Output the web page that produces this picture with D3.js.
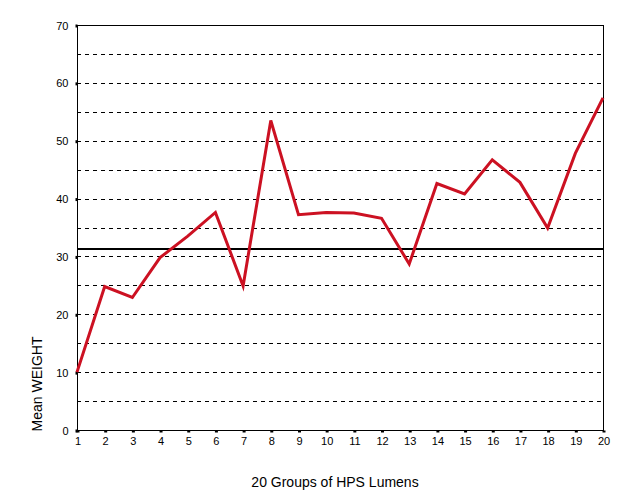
<!DOCTYPE html>
<html><head><meta charset="utf-8">
<script src="https://cdn.jsdelivr.net/npm/d3@7"></script>
<style>body{margin:0;background:#fff}svg{display:block}</style>
</head><body>
<svg id="c" width="630" height="503"></svg>
<script>
const groups = d3.range(1, 21);
const meanWeight = [10.0, 24.8, 22.9, 29.8, 33.5, 37.6, 24.9, 53.5, 37.2, 37.6, 37.5, 36.6, 28.7, 42.6, 40.8, 46.7, 42.8, 34.9, 47.8, 57.4];
const overallMean = 31.3;
const yTicks = [0, 10, 20, 30, 40, 50, 60, 70];
const yGrid = [5, 10, 15, 20, 25, 30, 35, 40, 45, 50, 55, 60, 65];

const svg = d3.select("#c");
const L = 77, R = 603, T = 25, B = 430;
const x = d3.scaleLinear().domain([1, 20]).range([L, R]);
const y = d3.scaleLinear().domain([0, 70]).range([B, T]);
const font = "Liberation Sans, Arial, sans-serif";

// grid
svg.append("g").selectAll("line").data(yGrid).join("line")
  .attr("x1", L).attr("x2", R)
  .attr("y1", d => Math.round(y(d)) + 0.5).attr("y2", d => Math.round(y(d)) + 0.5)
  .attr("stroke", "#000").attr("stroke-width", 1).attr("stroke-dasharray", "4,4");

// frame
svg.append("rect").attr("x", L + 0.5).attr("y", T + 0.5).attr("width", R - L).attr("height", B - T)
  .attr("fill", "none").attr("stroke", "#000").attr("stroke-width", 1);

// y axis
const yAxis = d3.axisLeft(y).tickValues(yTicks).tickSize(3).tickPadding(6);
const gy = svg.append("g").attr("transform", `translate(${L + 0.5},0.5)`).call(yAxis);
gy.select(".domain").remove();
gy.selectAll(".tick line").attr("stroke-width", 3).attr("x2", -2);
gy.selectAll("text").attr("font-family", font).attr("font-size", 11).attr("fill", "#000");

// x axis
const xAxis = d3.axisBottom(x).tickValues(groups).tickSize(3).tickPadding(4).tickFormat(d3.format("d"));
const gx = svg.append("g").attr("transform", `translate(0.5,${B + 0.5})`).call(xAxis);
gx.select(".domain").remove();
gx.selectAll(".tick line").attr("stroke-width", 3).attr("y1", 0).attr("y2", 2);
gx.selectAll("text").attr("font-family", font).attr("font-size", 11).attr("fill", "#000");

// mean line
svg.append("line").attr("x1", L).attr("x2", R)
  .attr("y1", y(overallMean)).attr("y2", y(overallMean))
  .attr("stroke", "#000").attr("stroke-width", 2);

// data line
svg.append("path").datum(meanWeight)
  .attr("d", d3.line().x((d, i) => x(groups[i])).y(d => y(d)))
  .attr("fill", "none").attr("stroke", "#cc1122").attr("stroke-width", 3)
  .attr("stroke-linejoin", "miter");

// titles
svg.append("text").attr("x", 335).attr("y", 487).attr("text-anchor", "middle")
  .attr("font-family", font).attr("font-size", 14).text("20 Groups of HPS Lumens");
svg.append("text").attr("transform", "translate(42,384) rotate(-90)").attr("text-anchor", "middle")
  .attr("font-family", font).attr("font-size", 14).text("Mean WEIGHT");
</script>
</body></html>
